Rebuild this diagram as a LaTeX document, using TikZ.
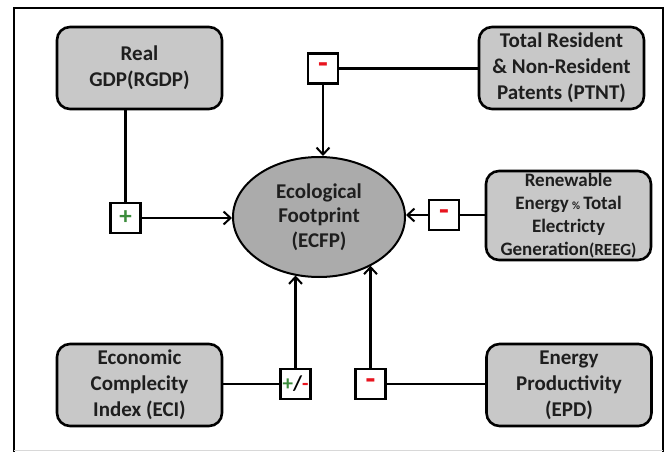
\documentclass[tikz,border=0pt]{standalone}
\usepackage{fontspec}
\setmainfont{Carlito}
\usetikzlibrary{arrows.meta,shapes.geometric}
\definecolor{boxgray}{HTML}{C8C8C8}
\definecolor{ellgray}{HTML}{ABABAB}
\definecolor{plusgreen}{HTML}{3C8C3C}
\definecolor{minusred}{HTML}{E8141E}
\definecolor{txt}{HTML}{1E1E1E}
\definecolor{framegray}{HTML}{D8D8D8}
\begin{document}
\begin{tikzpicture}[x=1pt,y=-1pt,
  varbox/.style={draw=black, line width=2.6pt, fill=boxgray, rounded corners=13pt,
    minimum width=165pt, minimum height=82pt, inner sep=0pt, align=center, text=txt,
    font=\fontsize{21}{26}\selectfont\bfseries},
  ellnode/.style={draw=black, line width=2pt, fill=ellgray, ellipse,
    minimum width=172pt, minimum height=120pt, inner sep=0pt, align=center, text=txt,
    font=\fontsize{21}{24.5}\selectfont\bfseries},
  signbox/.style={draw=black, line width=2.2pt, fill=white, minimum width=30pt,
    minimum height=30pt, inner sep=0pt, font=\fontsize{21}{21}\selectfont\bfseries},
  conn/.style={line width=2.2pt, draw=black},
  arr/.style={conn, -{Straight Barb[length=7pt,width=13pt,line width=2pt]}},
  minus/.style={text=minusred, font=\fontsize{32}{32}\selectfont\bfseries},
  plus/.style={text=plusgreen, font=\fontsize{25}{25}\selectfont\bfseries}
]
\useasboundingbox (0,0) rectangle (669,452);
% frame
\draw[line width=2pt] (14,452) -- (14,8) -- (663,8) -- (663,452);
\draw[line width=1pt, framegray] (14,450) -- (663,450);

% variable boxes
\node[varbox] (rgdp) at (139.5,68) {Real\\GDP(RGDP)};
\node[varbox] (ptnt) at (561.5,68) {Total Resident\\\& Non-Resident\\Patents (PTNT)};
\node[varbox, minimum height=89pt, font=\fontsize{19}{23}\selectfont\bfseries] (reeg) at (568.5,215.5)
  {Renewable\\Energy\,{\fontsize{11}{11}\selectfont\%}\,Total\\Electricty\\Generation{\fontsize{17}{17}\selectfont(REEG)}};
\node[varbox] (eci) at (139.5,385) {Economic\\Complecity\\Index (ECI)};
\node[varbox] (epd) at (569,385) {Energy\\Productivity\\(EPD)};
\node[ellnode] (ecfp) at (319,217) {Ecological\\Footprint\\(ECFP)};

% sign boxes
\node[signbox, plus] (sp) at (125.5,218) {+};
\node[signbox, minus] (s1) at (323,68.5) {-};
\node[signbox, minus] (s2) at (444,215) {-};
\node[signbox] (s3) at (295.5,384) {\textcolor{plusgreen}{+}/\textcolor{minusred}{-}};
\node[signbox, minus] (s4) at (370.5,384) {-};

% connectors
\draw[conn] (rgdp.south -| sp.north) -- (sp.north);
\draw[arr] (sp.east) -- (sp.east -| ecfp.west);
\draw[conn] (s1.east) -- (s1.east -| ptnt.west);
\draw[arr] (s1.south) -- (s1.south |- ecfp.north);
\draw[conn] (reeg.west |- s2.east) -- (s2.east);
\draw[arr] (s2.west) -- (s2.west -| ecfp.east);
\draw[conn] (eci.east |- s3.west) -- (s3.west);
\draw[arr] (s3.north) -- (s3.north |- ecfp.247.8);
\draw[conn] (s4.east) -- (s4.east -| epd.west);
\draw[arr] (s4.north) -- (s4.north |- ecfp.317);
\end{tikzpicture}
\end{document}
